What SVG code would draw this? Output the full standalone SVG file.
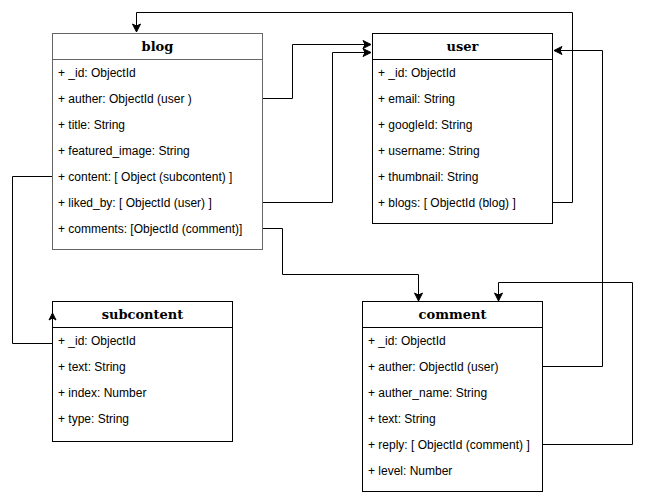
<svg xmlns="http://www.w3.org/2000/svg" width="647" height="497" viewBox="0 0 647 497">
<style>
.box{fill:#fff;stroke:#000;stroke-width:1}
.sel{stroke:#666}
.hd{font-family:"DejaVu Serif",serif;font-weight:bold;font-size:13px;text-anchor:middle;fill:#000}
.row{font-family:"Liberation Sans",Arial,sans-serif;font-size:12px;fill:#000}
.edge{fill:none;stroke:#000;stroke-width:1}
</style>
<defs>
<marker id="arr" viewBox="0 0 10 10" refX="9" refY="5" markerWidth="10" markerHeight="10" markerUnits="userSpaceOnUse" orient="auto">
<path d="M1,1 L9,5 L1,9 L3,5 Z" fill="#000" stroke="#000" stroke-width="1"/>
</marker>
</defs>
<g id="connectors">
<path class="edge" d="M552.5,202.5 H572.5 V12.5 H136.5 V32" marker-end="url(#arr)"/>
<path class="edge" d="M262.5,98.5 H292.5 V44.5 H371" marker-end="url(#arr)"/>
<path class="edge" d="M262.5,202.5 H332.5 V52.5 H371" marker-end="url(#arr)"/>
<path class="edge" d="M262.5,228.5 H282.5 V274.5 H418.5 V301" marker-end="url(#arr)"/>
<path class="edge" d="M542.5,366.5 H602.5 V50.5 H554" marker-end="url(#arr)"/>
<path class="edge" d="M542.5,444.5 H632.5 V282.5 H498.5 V301" marker-end="url(#arr)"/>
<path class="edge" d="M52.5,176.5 H12.5 V343.5 H52.5"/>
</g>
<g id="blog">
<rect class="box sel" x="52.5" y="33.5" width="210" height="216"/>
<line stroke="#666" x1="52.5" y1="59.5" x2="262.5" y2="59.5"/>
<text class="hd" x="157.5" y="51">blog</text>
<text class="row" x="58" y="77">+ _id: ObjectId</text>
<text class="row" x="58" y="103">+ auther: ObjectId (user )</text>
<text class="row" x="58" y="129">+ title: String</text>
<text class="row" x="58" y="155">+ featured_image: String</text>
<text class="row" x="58" y="181">+ content: [ Object (subcontent) ]</text>
<text class="row" x="58" y="207">+ liked_by: [ ObjectId (user) ]</text>
<text class="row" x="58" y="233">+ comments: [ObjectId (comment)]</text>
</g>
<g id="user">
<rect class="box" x="372.5" y="33.5" width="180" height="190"/>
<line stroke="#000" x1="372.5" y1="59.5" x2="552.5" y2="59.5"/>
<text class="hd" x="462.5" y="51">user</text>
<text class="row" x="378" y="77">+ _id: ObjectId</text>
<text class="row" x="378" y="103">+ email: String</text>
<text class="row" x="378" y="129">+ googleId: String</text>
<text class="row" x="378" y="155">+ username: String</text>
<text class="row" x="378" y="181">+ thumbnail: String</text>
<text class="row" x="378" y="207">+ blogs: [ ObjectId (blog) ]</text>
</g>
<g id="subcontent">
<rect class="box" x="52.5" y="301.5" width="180" height="140"/>
<line stroke="#000" x1="52.5" y1="327.5" x2="232.5" y2="327.5"/>
<path d="M52.5,313 L56,320 L52.5,318 L49,320 Z" fill="#000" stroke="#000" stroke-width="1"/>
<text class="hd" x="142.5" y="319">subcontent</text>
<text class="row" x="58" y="345">+ _id: ObjectId</text>
<text class="row" x="58" y="371">+ text: String</text>
<text class="row" x="58" y="397">+ index: Number</text>
<text class="row" x="58" y="423">+ type: String</text>
</g>
<g id="comment">
<rect class="box" x="362.5" y="301.5" width="180" height="190"/>
<line stroke="#000" x1="362.5" y1="327.5" x2="542.5" y2="327.5"/>
<text class="hd" x="452.5" y="319">comment</text>
<text class="row" x="368" y="345">+ _id: ObjectId</text>
<text class="row" x="368" y="371">+ auther: ObjectId (user)</text>
<text class="row" x="368" y="397">+ auther_name: String</text>
<text class="row" x="368" y="423">+ text: String</text>
<text class="row" x="368" y="449">+ reply: [ ObjectId (comment) ]</text>
<text class="row" x="368" y="475">+ level: Number</text>
</g>
</svg>
